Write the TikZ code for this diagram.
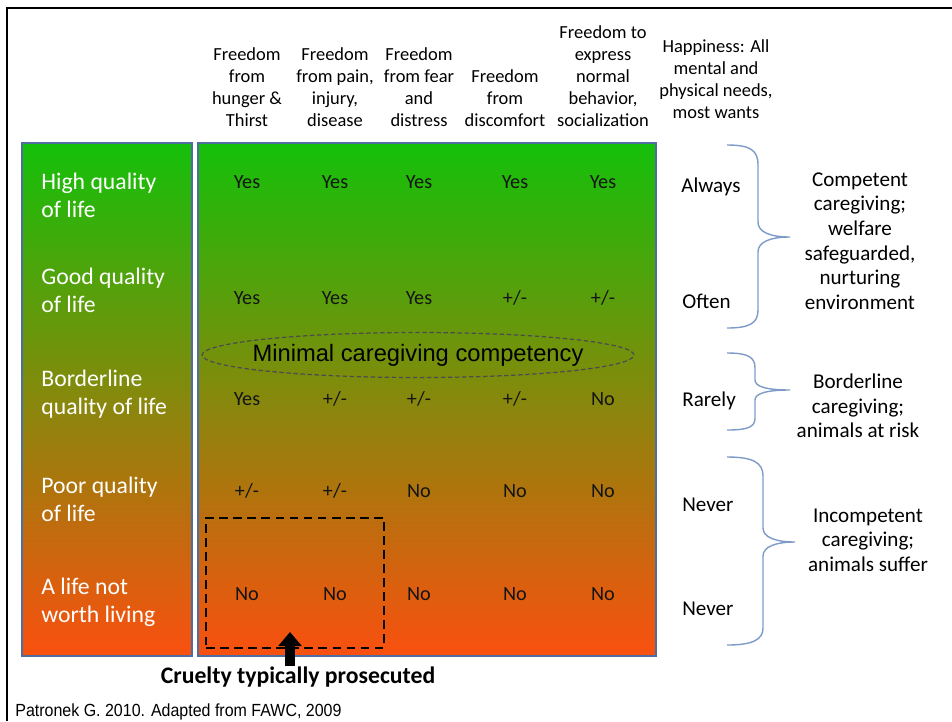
\documentclass[tikz,border=0pt]{standalone}
\usepackage{fontspec}
\setmainfont{Carlito}
\newfontfamily\arialfont{Liberation Sans}
\newfontfamily\notefont{Liberation Sans}[FakeStretch=0.91]
\usetikzlibrary{shapes.geometric,arrows.meta}

\definecolor{boxline}{RGB}{79,110,160}
\definecolor{braceline}{RGB}{126,155,200}
\definecolor{topgreen}{RGB}{20,192,10}
\definecolor{midolive}{RGB}{185,155,0}
\definecolor{botorange}{RGB}{250,80,15}
\definecolor{celltext}{RGB}{20,20,20}

\tikzset{
  qualbox/.style={draw=boxline, line width=1.1pt, top color=topgreen,
    middle color=midolive, bottom color=botorange},
  header/.style={align=center, inner sep=0pt, font=\fontsize{10.5}{12.5}\selectfont},
  rowlabel/.style={anchor=west, align=left, inner sep=0pt, text=white,
    font=\fontsize{13.5}{16}\selectfont},
  cell/.style={inner sep=0pt, text=celltext, font=\fontsize{11.5}{14}\selectfont},
  happy/.style={anchor=west, inner sep=0pt, font=\fontsize{12}{14}\selectfont},
  outcome/.style={align=center, inner sep=0pt, font=\fontsize{12}{14}\selectfont},
  carebrace/.style={draw=braceline, line width=0.8pt},
}

\begin{document}
\begin{tikzpicture}[x=0.02cm, y=0.02cm]

    % Fix the page to the picture size
    \useasboundingbox (0,0) rectangle (952,-721);

    % Outer frame (left and top edges)
    \draw[line width=1.7pt] (7,-721) -- (7,-8) -- (952,-8);

    % The two shaded boxes
    \draw[qualbox] (22,-143) rectangle (192,-656);
    \draw[qualbox] (198,-143) rectangle (656,-656);

    % Column headers
    \node[header] (h1) at (247,-87) {Freedom\\from\\hunger \&\\Thirst};
    \node[header] (h2) at (335,-87) {Freedom\\from pain,\\injury,\\disease};
    \node[header] (h3) at (419,-87) {Freedom\\from fear\\and\\distress};
    \node[header] (h4) at (505,-98) {Freedom\\from\\discomfort};
    \node[header] (h5) at (603,-76) {Freedom to\\express\\normal\\behavior,\\socialization};
    \node[header] (h6) at (716,-79) {Happiness: All\\mental and\\physical needs,\\most wants};

    % Quality of life labels
    \node[rowlabel] (q1) at (41,-195) {High quality\\of life};
    \node[rowlabel] (q2) at (41,-290) {Good quality\\of life};
    \node[rowlabel] (q3) at (41,-394) {Borderline\\quality of life};
    \node[rowlabel] (q4) at (41,-499) {Poor quality\\of life};
    \node[rowlabel] (q5) at (41,-602) {A life not\\worth living};

    % Table entries, one row at a time
    \foreach \x/\v [count=\i] in {247/Yes,335/Yes,419/Yes,515/Yes,603/Yes}
      \node[cell] (r1c\i) at (\x,-182) {\v};
    \foreach \x/\v [count=\i] in {247/Yes,335/Yes,419/Yes,515/{+/-},603/{+/-}}
      \node[cell] (r2c\i) at (\x,-298) {\v};
    \foreach \x/\v [count=\i] in {247/Yes,335/{+/-},419/{+/-},515/{+/-},603/No}
      \node[cell] (r3c\i) at (\x,-399) {\v};
    \foreach \x/\v [count=\i] in {247/{+/-},335/{+/-},419/No,515/No,603/No}
      \node[cell] (r4c\i) at (\x,-491) {\v};
    \foreach \x/\v [count=\i] in {247/No,335/No,419/No,515/No,603/No}
      \node[cell] (r5c\i) at (\x,-594) {\v};

    % Happiness column
    \node[happy] (p1) at (681,-187) {Always};
    \node[happy] (p2) at (682,-301) {Often};
    \node[happy] (p3) at (682,-401) {Rarely};
    \node[happy] (p4) at (682,-505) {Never};
    \node[happy] (p5) at (682,-609) {Never};

    % Minimal competency line
    \node[inner sep=0pt, font=\arialfont\fontsize{13.5}{15}\selectfont] (minimal)
      at (418,-355) {Minimal caregiving competency};
    \draw[black!70, dash pattern=on 2.5pt off 1.5pt, line width=0.7pt]
      (minimal.center) ellipse [x radius=4.32cm, y radius=0.45cm];

    % Cruelty region
    \node[draw, line width=1.5pt, dash pattern=on 5pt off 3pt, minimum width=3.56cm,
      minimum height=2.6cm, inner sep=0pt] (cruelbox) at (295,-583) {};
    \node[font=\bfseries\fontsize{13.5}{16}\selectfont, inner sep=0pt] (cruelty)
      at (298,-677) {Cruelty typically prosecuted};
    \coordinate (arrowtip) at (290,-632);
    \draw[line width=5.5pt, -{Triangle[width=13pt,length=8pt]}]
      (arrowtip |- cruelty.north) -- (arrowtip);

    % Braces
    \draw[carebrace] (727,-145) .. controls (750,-145) and (758,-150) .. (758,-165)
      -- (758,-222) .. controls (758,-232) and (770,-237) .. (790,-237)
      .. controls (770,-237) and (758,-242) .. (758,-252)
      -- (758,-310) .. controls (758,-323) and (750,-328) .. (727,-328);
    \draw[carebrace] (727,-353) .. controls (748,-353) and (755,-357) .. (755,-368)
      -- (755,-380) .. controls (755,-387) and (768,-390) .. (790,-390)
      .. controls (768,-390) and (755,-393) .. (755,-400)
      -- (755,-418) .. controls (755,-427) and (748,-430) .. (727,-430);
    \draw[carebrace] (727,-457) .. controls (752,-457) and (763,-462) .. (763,-476)
      -- (763,-528) .. controls (763,-537) and (775,-542) .. (795,-542)
      .. controls (775,-542) and (763,-547) .. (763,-556)
      -- (763,-628) .. controls (763,-640) and (752,-645) .. (727,-645);

    % Caregiving outcomes
    \node[outcome] (competent) at (860,-241)
      {Competent\\caregiving;\\welfare\\safeguarded,\\nurturing\\environment};
    \node[outcome] (borderline) at (858,-406)
      {Borderline\\caregiving;\\animals at risk};
    \node[outcome] (incompetent) at (868,-540)
      {Incompetent\\caregiving;\\animals suffer};

    % Source
    \node[anchor=west, inner sep=0pt, font=\notefont\fontsize{10}{12}\selectfont]
      (source) at (15,-712) {Patronek G. 2010. Adapted from FAWC, 2009};

\end{tikzpicture}
\end{document}
